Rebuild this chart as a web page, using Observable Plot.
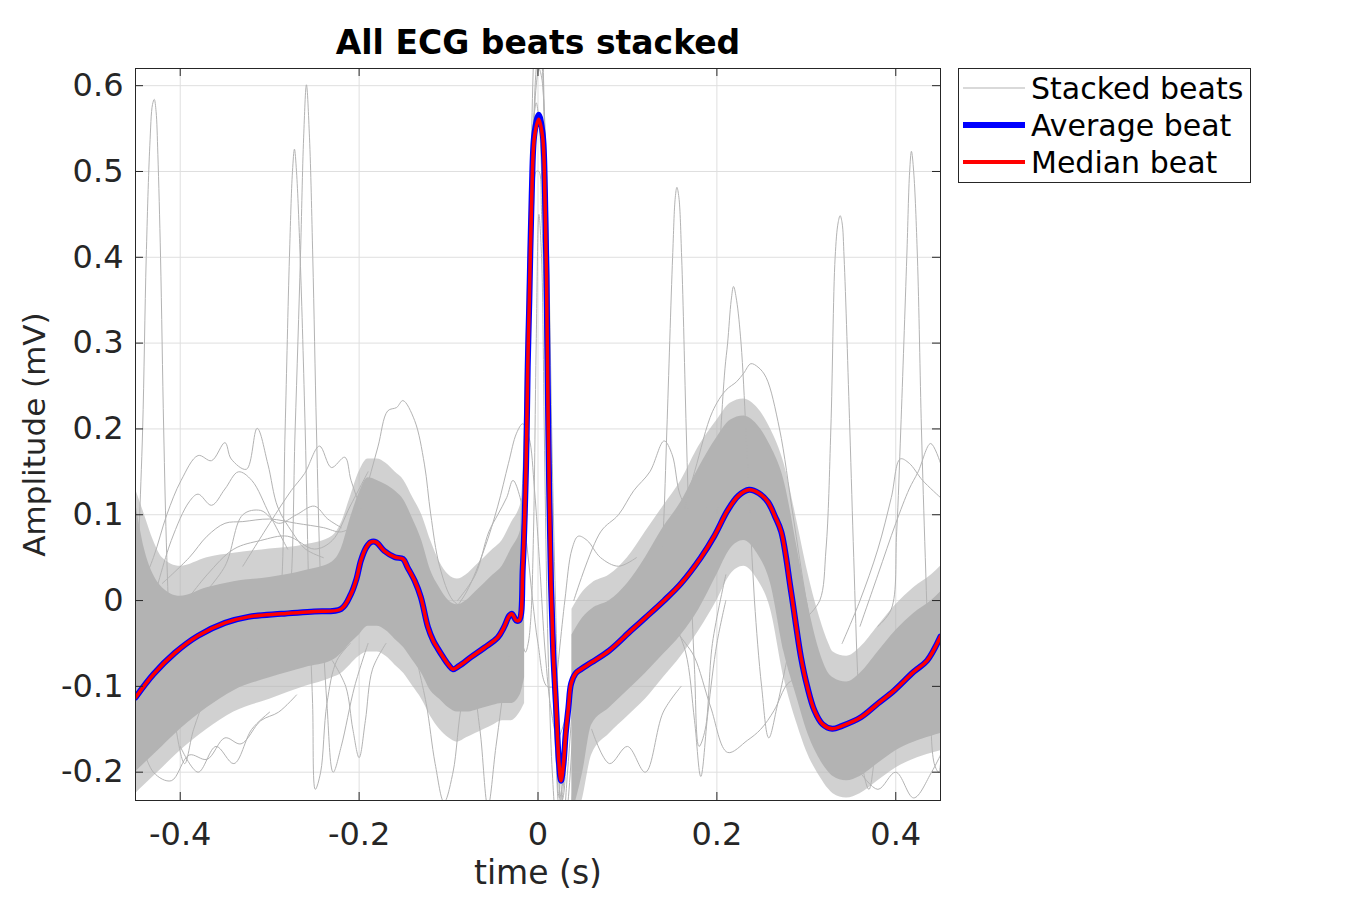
<!DOCTYPE html>
<html>
<head>
<meta charset="utf-8">
<script src="https://cdn.jsdelivr.net/npm/d3@7"></script>
<script src="https://cdn.jsdelivr.net/npm/@observablehq/plot@0.6"></script>
<style>
  html, body { margin: 0; padding: 0; background: #ffffff; }
  #chart { width: 1350px; height: 900px; }
</style>
</head>
<body>
<div id="chart"></div>
<script>
// ---------------- Data ----------------
const xTicks = [-0.4, -0.2, 0, 0.2, 0.4];
const yTicks = [-0.2, -0.1, 0, 0.1, 0.2, 0.3, 0.4, 0.5, 0.6];

// Average beat (time s, amplitude mV)
const avgTime = [-0.45,-0.43,-0.406,-0.38,-0.35,-0.324,-0.287,-0.25,-0.22,-0.209,-0.203,-0.198,-0.192,-0.187,-0.181,-0.172,-0.16,-0.151,-0.146,-0.138,-0.131,-0.123,-0.117,-0.112,-0.106,-0.1,-0.095,-0.088,-0.075,-0.06,-0.045,-0.038,-0.032,-0.029,-0.0246,-0.021,-0.017,-0.0134,-0.0115,-0.0097,-0.007,-0.004,0.0008,0.0052,0.0078,0.0095,0.0108,0.0125,0.0145,0.017,0.020,0.0235,0.0257,0.0285,0.031,0.034,0.037,0.042,0.048,0.06,0.08,0.104,0.12,0.141,0.16,0.182,0.197,0.212,0.224,0.236,0.247,0.257,0.265,0.272,0.283,0.294,0.301,0.309,0.318,0.329,0.34,0.361,0.38,0.398,0.42,0.435,0.45];
const avgValue = [-0.113,-0.086,-0.061,-0.041,-0.026,-0.019,-0.0155,-0.0128,-0.0097,0.0078,0.025,0.0466,0.062,0.068,0.068,0.058,0.0505,0.0485,0.039,0.0233,0.004,-0.031,-0.047,-0.056,-0.066,-0.075,-0.08,-0.076,-0.066,-0.055,-0.043,-0.031,-0.0175,-0.0155,-0.023,-0.023,0.039,0.155,0.272,0.35,0.474,0.544,0.566,0.544,0.474,0.38,0.26,0.13,0.02,-0.06,-0.12,-0.19,-0.21,-0.19,-0.155,-0.125,-0.097,-0.085,-0.08,-0.072,-0.058,-0.035,-0.02,0.0,0.02,0.05,0.075,0.105,0.122,0.129,0.125,0.115,0.098,0.08,0.01,-0.066,-0.1,-0.128,-0.144,-0.1495,-0.146,-0.136,-0.12,-0.105,-0.083,-0.07,-0.042];
// Median beat (same time grid)
const medianValue = [-0.113,-0.086,-0.061,-0.041,-0.026,-0.019,-0.0155,-0.0128,-0.0097,0.0078,0.025,0.0466,0.062,0.068,0.068,0.058,0.0505,0.0485,0.039,0.0233,0.004,-0.031,-0.047,-0.056,-0.066,-0.075,-0.08,-0.076,-0.066,-0.055,-0.043,-0.031,-0.0175,-0.0155,-0.023,-0.023,0.039,0.155,0.272,0.35,0.47,0.54,0.561,0.54,0.47,0.38,0.26,0.13,0.02,-0.06,-0.12,-0.19,-0.21,-0.19,-0.155,-0.125,-0.097,-0.085,-0.08,-0.072,-0.058,-0.035,-0.02,0.0,0.02,0.05,0.075,0.105,0.122,0.129,0.125,0.115,0.098,0.08,0.01,-0.066,-0.1,-0.128,-0.144,-0.1495,-0.146,-0.136,-0.12,-0.105,-0.083,-0.07,-0.042];

// Dense envelope of the stacked beats, before and after the QRS
const bandTime1  = [-0.45,-0.44,-0.43,-0.42,-0.40,-0.37,-0.34,-0.30,-0.26,-0.23,-0.22,-0.21,-0.20,-0.19,-0.18,-0.17,-0.16,-0.15,-0.14,-0.13,-0.12,-0.11,-0.10,-0.09,-0.08,-0.07,-0.06,-0.05,-0.04,-0.03,-0.02,-0.015];
const bandUpper1 = [0.115,0.06,0.03,0.015,0.005,0.015,0.022,0.027,0.035,0.045,0.06,0.095,0.125,0.143,0.14,0.135,0.128,0.117,0.095,0.07,0.035,0.015,0.0,-0.005,0.0,0.01,0.02,0.03,0.04,0.06,0.08,0.1];
const bandLower1 = [-0.2,-0.19,-0.18,-0.17,-0.15,-0.125,-0.105,-0.09,-0.078,-0.07,-0.062,-0.05,-0.04,-0.03,-0.03,-0.035,-0.045,-0.055,-0.07,-0.085,-0.105,-0.115,-0.125,-0.13,-0.13,-0.128,-0.125,-0.122,-0.12,-0.12,-0.11,-0.09];
const bandTime2  = [0.038,0.05,0.06,0.08,0.10,0.12,0.14,0.16,0.18,0.20,0.215,0.23,0.245,0.26,0.275,0.29,0.30,0.315,0.325,0.33,0.345,0.36,0.38,0.40,0.42,0.44,0.45];
const bandUpper2 = [-0.04,-0.02,-0.01,0.0,0.02,0.05,0.085,0.115,0.155,0.19,0.21,0.215,0.205,0.18,0.14,0.06,0.005,-0.06,-0.085,-0.09,-0.095,-0.085,-0.06,-0.035,-0.015,0.0,0.01];
const bandLower2 = [-0.25,-0.2,-0.145,-0.125,-0.105,-0.085,-0.063,-0.04,-0.01,0.03,0.06,0.07,0.055,0.02,-0.06,-0.115,-0.15,-0.185,-0.2,-0.205,-0.21,-0.205,-0.19,-0.175,-0.165,-0.158,-0.155];
// Sparser fringe around the dense envelope (same time grids)
const fringeUpper1 = [0.13,0.1,0.07,0.05,0.04,0.05,0.055,0.06,0.065,0.075,0.09,0.12,0.15,0.165,0.165,0.16,0.15,0.14,0.12,0.1,0.07,0.045,0.03,0.025,0.03,0.04,0.05,0.06,0.07,0.09,0.11,0.13];
const fringeLower1 = [-0.225,-0.215,-0.205,-0.195,-0.175,-0.15,-0.13,-0.115,-0.1,-0.09,-0.085,-0.075,-0.065,-0.06,-0.06,-0.065,-0.075,-0.085,-0.1,-0.115,-0.135,-0.15,-0.16,-0.165,-0.16,-0.155,-0.15,-0.145,-0.14,-0.14,-0.13,-0.12];
const fringeUpper2 = [-0.01,0.01,0.02,0.03,0.05,0.08,0.11,0.14,0.18,0.21,0.23,0.235,0.225,0.2,0.16,0.09,0.04,-0.02,-0.05,-0.06,-0.065,-0.055,-0.03,-0.005,0.015,0.03,0.04];
const fringeLower2 = [-0.27,-0.23,-0.18,-0.155,-0.135,-0.115,-0.09,-0.065,-0.035,0.0,0.03,0.04,0.025,-0.01,-0.09,-0.145,-0.175,-0.205,-0.22,-0.225,-0.23,-0.225,-0.21,-0.195,-0.185,-0.178,-0.175];

// Individual QRS complexes of stacked beats
const qrsTime = [-0.035,-0.025,-0.018,-0.014,-0.011,-0.008,-0.005,-0.002,0.001,0.004,0.007,0.010,0.013,0.016,0.020,0.024,0.028,0.033,0.040];
const qrsBeatA = [0.0,0.0,0.04,0.15,0.33,0.5,0.63,0.7,0.72,0.68,0.57,0.4,0.2,0.02,-0.12,-0.22,-0.26,-0.2,-0.1];
const qrsBeatB = [-0.02,-0.025,0.0,0.08,0.22,0.4,0.55,0.62,0.645,0.63,0.56,0.44,0.27,0.08,-0.1,-0.22,-0.27,-0.24,-0.13];
const qrsBeatC = [0.03,0.04,0.12,0.27,0.4,0.5,0.56,0.58,0.56,0.5,0.4,0.24,0.08,-0.06,-0.17,-0.24,-0.23,-0.15,-0.09];
const qrsBeatD = [-0.03,-0.04,-0.05,-0.06,-0.05,-0.02,0.08,0.3,0.45,0.4,0.2,0.0,-0.12,-0.2,-0.25,-0.26,-0.22,-0.15,-0.1];
const qrsBeatE = [-0.01,-0.02,0.02,0.12,0.26,0.42,0.54,0.6,0.62,0.61,0.57,0.48,0.34,0.16,-0.02,-0.16,-0.25,-0.28,-0.2];
const qrsBeatF = [-0.01,-0.015,0.03,0.12,0.25,0.38,0.46,0.5,0.5,0.45,0.35,0.2,0.05,-0.08,-0.18,-0.23,-0.21,-0.13,-0.08];

// Outlying stacked beats: [time, amplitude]
const spike1 = [[-0.45,-0.05],[-0.446,0.08],[-0.442,0.2],[-0.438,0.4],[-0.434,0.53],[-0.431,0.578],[-0.429,0.584],[-0.427,0.57],[-0.425,0.52],[-0.422,0.4],[-0.4185,0.2],[-0.415,0.05],[-0.41,-0.08],[-0.403,-0.16],[-0.395,-0.19],[-0.385,-0.15],[-0.37,-0.11],[-0.35,-0.08],[-0.32,-0.06],[-0.3,-0.05]];
const spike2 = [[-0.3,-0.02],[-0.285,-0.03],[-0.278,0.0],[-0.2715,0.2],[-0.2656,0.4],[-0.262,0.54],[-0.2589,0.601],[-0.2555,0.54],[-0.2518,0.4],[-0.2477,0.2],[-0.243,0.02],[-0.236,-0.12],[-0.229,-0.2],[-0.22,-0.17],[-0.205,-0.1],[-0.19,-0.05]];
const spike3 = [[-0.31,-0.03],[-0.295,-0.04],[-0.288,0.0],[-0.2827,0.2],[-0.2779,0.4],[-0.2745,0.5],[-0.2723,0.526],[-0.27,0.5],[-0.2659,0.4],[-0.2603,0.2],[-0.256,0.0],[-0.252,-0.12],[-0.249,-0.22],[-0.243,-0.2],[-0.236,-0.12],[-0.225,-0.07],[-0.21,-0.05]];
const spike4 = [[0.12,0.0],[0.135,0.0],[0.14,0.08],[0.1441,0.2],[0.1505,0.4],[0.1535,0.47],[0.1553,0.4815],[0.1575,0.47],[0.1606,0.4],[0.1657,0.2],[0.17,0.05],[0.175,-0.08],[0.18,-0.17],[0.187,-0.15],[0.195,-0.05],[0.21,0.03]];
const spike5 = [[0.17,0.02],[0.19,0.05],[0.2,0.1],[0.2045,0.2],[0.209,0.27],[0.212,0.3],[0.216,0.35],[0.2186,0.366],[0.222,0.35],[0.227,0.3],[0.2324,0.2],[0.237,0.1],[0.242,0.0],[0.25,-0.1],[0.258,-0.16],[0.268,-0.12],[0.28,-0.06]];
const spike6 = [[0.3,-0.02],[0.315,0.0],[0.322,0.06],[0.3274,0.2],[0.3322,0.4],[0.3355,0.44],[0.3378,0.4485],[0.34,0.44],[0.3422,0.4],[0.3486,0.2],[0.353,0.05],[0.358,-0.1],[0.364,-0.2],[0.37,-0.22],[0.378,-0.17],[0.39,-0.1]];
const spike7 = [[0.38,-0.03],[0.395,-0.01],[0.401,0.08],[0.4056,0.2],[0.4123,0.4],[0.4155,0.5],[0.4175,0.5235],[0.42,0.5],[0.4242,0.4],[0.4287,0.2],[0.433,0.05],[0.438,-0.1],[0.443,-0.19],[0.448,-0.2],[0.45,-0.19]];
const broadT = [[0.12,0.0],[0.15,0.06],[0.175,0.15],[0.195,0.22],[0.21,0.245],[0.222,0.255],[0.23,0.265],[0.238,0.276],[0.246,0.272],[0.255,0.26],[0.27,0.2],[0.285,0.1],[0.3,0.0],[0.315,-0.08],[0.33,-0.12],[0.35,-0.11]];
const upperP1 = [[-0.24,0.03],[-0.215,0.06],[-0.195,0.12],[-0.179,0.179],[-0.168,0.221],[-0.158,0.225],[-0.151,0.233],[-0.138,0.21],[-0.127,0.159],[-0.12,0.101],[-0.11,0.04],[-0.095,0.0],[-0.08,-0.01]];
const upperP2 = [[-0.45,0.0],[-0.43,0.05],[-0.415,0.1],[-0.399,0.14],[-0.38,0.169],[-0.365,0.163],[-0.35,0.184],[-0.343,0.165],[-0.326,0.153],[-0.314,0.2007],[-0.302,0.159],[-0.291,0.109],[-0.275,0.08],[-0.26,0.06],[-0.24,0.05]];
const upperP3 = [[-0.43,0.0],[-0.41,0.07],[-0.39,0.115],[-0.38,0.124],[-0.365,0.111],[-0.35,0.13],[-0.335,0.15],[-0.32,0.14],[-0.3,0.1],[-0.28,0.06]];
const upperP4 = [[-0.33,0.04],[-0.3,0.09],[-0.276,0.128],[-0.261,0.148],[-0.2443,0.18],[-0.231,0.155],[-0.216,0.167],[-0.209,0.14],[-0.195,0.1],[-0.18,0.07]];
const upperP5 = [[-0.42,0.02],[-0.39,0.05],[-0.37,0.075],[-0.35,0.09],[-0.33,0.092],[-0.3,0.095],[-0.27,0.09],[-0.24,0.085],[-0.22,0.08],[-0.2,0.09]];
const upperP6 = [[-0.4,-0.01],[-0.37,0.03],[-0.34,0.06],[-0.31,0.07],[-0.28,0.075],[-0.25,0.06],[-0.23,0.07],[-0.21,0.11],[-0.19,0.15]];
const upperP7 = [[-0.38,0.0],[-0.35,0.04],[-0.33,0.1],[-0.31,0.105],[-0.29,0.09],[-0.27,0.1],[-0.25,0.11],[-0.235,0.095],[-0.22,0.085]];
const nearQrs1 = [[-0.1,-0.02],[-0.08,0.01],[-0.06,0.06],[-0.045,0.11],[-0.033,0.16],[-0.024,0.195],[-0.017,0.206],[-0.01,0.19],[-0.004,0.13],[0.002,0.04],[0.008,-0.06],[0.015,-0.13],[0.022,-0.16],[0.03,-0.14],[0.04,-0.1]];
const nearQrs2 = [[-0.09,0.0],[-0.07,0.03],[-0.055,0.08],[-0.045,0.1],[-0.035,0.12],[-0.028,0.14],[-0.02,0.12],[-0.012,0.06],[-0.006,0.0],[0.0,-0.05],[0.01,-0.1],[0.02,-0.1]];
const afterQrs = [[0.02,-0.1],[0.03,0.0],[0.038,0.06],[0.045,0.075],[0.055,0.07],[0.07,0.05],[0.09,0.04],[0.11,0.05]];
const upperT1 = [[0.04,0.0],[0.07,0.08],[0.09,0.1],[0.107,0.128],[0.125,0.15],[0.141,0.186],[0.15,0.17],[0.16,0.12],[0.175,0.1],[0.19,0.11],[0.21,0.13]];
const upperR1 = [[0.36,-0.03],[0.38,0.03],[0.4,0.09],[0.415,0.13],[0.425,0.15],[0.439,0.183],[0.45,0.16]];
const upperR2 = [[0.34,-0.05],[0.36,0.0],[0.38,0.06],[0.395,0.12],[0.405,0.165],[0.415,0.16],[0.43,0.14],[0.45,0.12]];
const lowerD1 = [[-0.45,-0.14],[-0.43,-0.2],[-0.41,-0.21],[-0.39,-0.18],[-0.37,-0.185],[-0.35,-0.16],[-0.332,-0.167],[-0.31,-0.14],[-0.29,-0.13],[-0.27,-0.11]];
const lowerD2 = [[-0.23,-0.07],[-0.215,-0.1],[-0.207,-0.15],[-0.2,-0.183],[-0.193,-0.14],[-0.185,-0.08],[-0.17,-0.05]];
const lowerD3 = [[-0.14,-0.05],[-0.125,-0.12],[-0.115,-0.19],[-0.105,-0.235],[-0.095,-0.2],[-0.085,-0.12],[-0.075,-0.09],[-0.065,-0.15],[-0.056,-0.24],[-0.047,-0.17],[-0.035,-0.08],[-0.025,-0.03]];
const lowerD4 = [[0.15,-0.03],[0.165,-0.05],[0.175,-0.066],[0.193,-0.124],[0.212,-0.177],[0.234,-0.163],[0.249,-0.15],[0.264,-0.128],[0.279,-0.097],[0.29,-0.09]];
const lowerD5 = [[0.15,-0.02],[0.165,-0.06],[0.175,-0.14],[0.182,-0.205],[0.19,-0.13],[0.2,-0.05],[0.21,0.0]];
const lowerD6 = [[-0.4,-0.17],[-0.38,-0.2],[-0.36,-0.17],[-0.34,-0.19],[-0.32,-0.15],[-0.3,-0.13]];
const lowerD7 = [[0.06,-0.15],[0.08,-0.19],[0.1,-0.17],[0.12,-0.2],[0.14,-0.13],[0.16,-0.1]];
const lowerD8 = [[0.36,-0.2],[0.38,-0.22],[0.4,-0.2],[0.42,-0.23],[0.44,-0.2],[0.45,-0.18]];

const legendLabels = ["Stacked beats", "Average beat", "Median beat"];

// ---------------- Build tables ----------------
const avgRows = avgTime.map((t, i) => ({t, v: avgValue[i]}));
const medRows = avgTime.map((t, i) => ({t, v: medianValue[i]}));
const bandRows = [
  ...bandTime1.map((t, i) => ({seg: 1, t, lo: bandLower1[i], hi: bandUpper1[i], flo: fringeLower1[i], fhi: fringeUpper1[i]})),
  ...bandTime2.map((t, i) => ({seg: 2, t, lo: bandLower2[i], hi: bandUpper2[i], flo: fringeLower2[i], fhi: fringeUpper2[i]}))
];
const grayRows = [];
[qrsBeatA, qrsBeatB, qrsBeatC, qrsBeatD, qrsBeatE, qrsBeatF].forEach((vals, k) =>
  vals.forEach((v, i) => grayRows.push({id: "q" + k, t: qrsTime[i], v})));
[spike1, spike2, spike3, spike4, spike5, spike6, spike7, broadT, upperP1, upperP2, upperP3, upperP4, upperP5, upperP6, upperP7,
 nearQrs1, nearQrs2, afterQrs, upperT1, upperR1, upperR2, lowerD1, lowerD2, lowerD3, lowerD4, lowerD5, lowerD6, lowerD7, lowerD8]
  .forEach((arr, k) => arr.forEach(([t, v]) => grayRows.push({id: "o" + k, t, v})));

// ---------------- Plot ----------------
const GRAY = "#b3b3b3", AX = "#262626";
const mL = 135, mR = 410, mT = 68, mB = 100;
const fW = 1350 - mL - mR, fH = 900 - mT - mB, tk = 8;

const chart = Plot.plot({
  width: 1350, height: 900,
  marginLeft: mL, marginRight: mR, marginTop: mT, marginBottom: mB,
  style: {fontFamily: "DejaVu Sans", fontSize: "32px", color: AX, background: "#ffffff", overflow: "visible"},
  x: {domain: [-0.45, 0.45]},
  y: {domain: [-0.233, 0.62]},
  marks: [
    Plot.gridX(xTicks, {stroke: "#dfdfdf", strokeOpacity: 1}),
    Plot.gridY(yTicks, {stroke: "#dfdfdf", strokeOpacity: 1}),
    Plot.areaY(bandRows, {x: "t", y1: "flo", y2: "fhi", z: "seg", fill: GRAY, fillOpacity: 0.6, curve: "monotone-x", clip: true}),
    Plot.areaY(bandRows, {x: "t", y1: "lo", y2: "hi", z: "seg", fill: GRAY, curve: "monotone-x", clip: true}),
    Plot.line(grayRows, {x: "t", y: "v", z: "id", stroke: GRAY, strokeWidth: 1, curve: "catmull-rom", clip: true}),
    Plot.line(avgRows, {x: "t", y: "v", stroke: "#0000ff", strokeWidth: 6, curve: "catmull-rom", clip: true}),
    Plot.line(medRows, {x: "t", y: "v", stroke: "#ff0000", strokeWidth: 3.5, curve: "catmull-rom", clip: true}),
    Plot.frame({stroke: AX}),
    Plot.ruleX(xTicks, {x: d => d, insetBottom: fH - tk, stroke: AX}),
    Plot.ruleX(xTicks, {x: d => d, insetTop: fH - tk, stroke: AX}),
    Plot.ruleY(yTicks, {y: d => d, insetRight: fW - tk, stroke: AX}),
    Plot.ruleY(yTicks, {y: d => d, insetLeft: fW - tk, stroke: AX}),
    Plot.axisX(xTicks, {tickSize: 0, tickPadding: 22, tickFormat: d => String(d), label: null, fontSize: 32, fill: AX}),
    Plot.axisY(yTicks, {tickSize: 0, tickPadding: 12, tickFormat: d => String(d), label: null, fontSize: 32, fill: AX}),
    Plot.text(["All ECG beats stacked"], {text: d => d, frameAnchor: "top", lineAnchor: "middle", dy: -25, fontWeight: "bold", fontSize: 33, fill: "#000000"}),
    Plot.text(["time (s)"], {text: d => d, frameAnchor: "bottom", lineAnchor: "middle", dy: 73, fontSize: 33, fill: AX}),
    Plot.text(["Amplitude (mV)"], {text: d => d, frameAnchor: "left", lineAnchor: "middle", dx: -100, rotate: -90, textAnchor: "middle", fontSize: 31, fill: AX})
  ]
});
document.getElementById("chart").appendChild(chart);

// ---------------- Legend (drawn in the same SVG) ----------------
const svg = d3.select(chart);
const lg = svg.append("g").attr("text-anchor", "start");
lg.append("rect").attr("x", 958.5).attr("y", 68.5).attr("width", 292).attr("height", 114)
  .attr("fill", "#ffffff").attr("stroke", AX).attr("stroke-width", 1);
const legendStyles = [{c: GRAY, w: 1}, {c: "#0000ff", w: 6}, {c: "#ff0000", w: 4}];
legendLabels.forEach((lab, i) => {
  const y = 88 + i * 37;
  lg.append("line").attr("x1", 963).attr("x2", 1025).attr("y1", y).attr("y2", y)
    .attr("stroke", legendStyles[i].c).attr("stroke-width", legendStyles[i].w);
  lg.append("text").attr("x", 1031).attr("y", y).attr("dy", "0.35em").attr("text-anchor", "start")
    .attr("font-family", "DejaVu Sans").attr("font-size", 30).attr("fill", "#000000").text(lab);
});
</script>
</body>
</html>
